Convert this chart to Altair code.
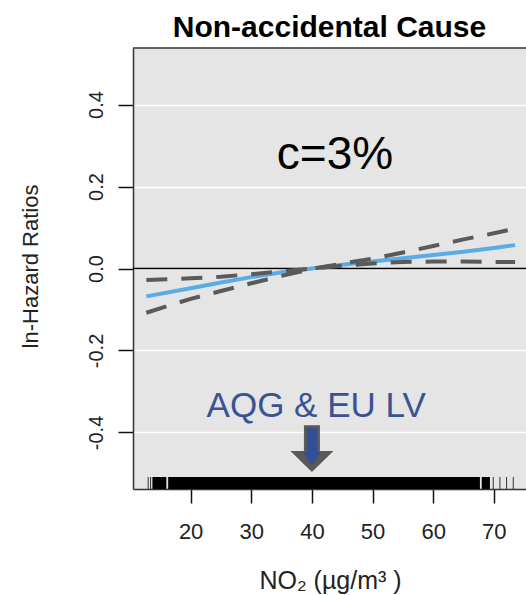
import altair as alt
import pandas as pd

FONT = "Liberation Sans, Arial, Helvetica, sans-serif"

# ---- data ----
x_vals = [12.7, 20, 25, 30, 35, 40, 45, 50, 55, 60, 65, 70, 73.5]
fit_vals = [-0.068, -0.048, -0.034, -0.021, -0.009, 0.000, 0.009, 0.017, 0.025, 0.033, 0.041, 0.050, 0.057]
ci_steep = [-0.108, -0.074, -0.055, -0.036, -0.018, -0.001, 0.012, 0.024, 0.039, 0.055, 0.071, 0.086, 0.097]
ci_flat = [-0.028, -0.024, -0.020, -0.014, -0.007, 0.000, 0.007, 0.012, 0.016, 0.017, 0.017, 0.016, 0.016]

rug_dense_start = [13.7, 16.3, 68.0]
rug_dense_end = [16.0, 67.7, 69.35]
rug_ticks = [13.0, 13.4, 69.9, 71.0, 72.1, 73.2]

x_ticks = [20, 30, 40, 50, 60, 70]
y_ticks = [-0.4, -0.2, 0.0, 0.2, 0.4]

limit_value = [40]          # AQG & EU limit value, µg/m3
label_text = ["AQG & EU LV"]
effect_text = ["c=3%"]

# ---- tables ----
fit_df = pd.DataFrame({"x": x_vals, "y": fit_vals})
ci_df = pd.concat([
    pd.DataFrame({"x": x_vals, "y": ci_steep, "bound": "steep"}),
    pd.DataFrame({"x": x_vals, "y": ci_flat, "bound": "flat"}),
])
rug_rect_df = pd.DataFrame({"x": rug_dense_start, "x2": rug_dense_end})
rug_tick_df = pd.DataFrame({"x": rug_ticks})
zero_df = pd.DataFrame({"y": [0.0]})
arrow_df = pd.DataFrame({"x": limit_value, "y": [-0.440]})
aqg_df = pd.DataFrame({"x": [40.7], "y": [-0.363], "t": label_text})
eff_df = pd.DataFrame({"x": [43.8], "y": [0.243], "t": effect_text})

W, H = 393, 441
xs = alt.Scale(domain=[10.5, 75.3], nice=False, zero=False)
ys = alt.Scale(domain=[-0.538, 0.538], nice=False, zero=False)

x_axis = alt.Axis(
    values=x_ticks, title="NO\u2082 (\u00b5g/m\u00b3 )", grid=False,
    domainColor="#333333", domainWidth=1.5,
    tickColor="#111111", tickWidth=1.5, tickSize=14,
    labelFont=FONT, labelFontSize=22, labelColor="#222222", labelPadding=18,
    titleFont=FONT, titleFontSize=25, titleFontWeight="normal", titleColor="#222222",
    titleX=197, titleY=99, titleAlign="center", titleBaseline="alphabetic",
)
y_axis = alt.Axis(
    values=y_ticks, title="ln-Hazard Ratios", grid=True,
    gridColor="white", gridWidth=1.5,
    domainColor="#333333", domainWidth=1.5,
    tickColor="#111111", tickWidth=1.5, tickSize=15,
    labelFont=FONT, labelFontSize=20, labelColor="#222222", labelPadding=12,
    labelAngle=270, labelAlign="center", labelBaseline="bottom",
    labelExpr="datum.value < 0 ? '-' + format(abs(datum.value), '.1f') : format(datum.value, '.1f')",
    titleFont=FONT, titleFontSize=22, titleFontWeight="normal", titleColor="#222222",
    titleAngle=270, titleX=-103, titleY=218, titleAlign="center", titleBaseline="middle",
)

def X(field="x"):
    return alt.X(f"{field}:Q", scale=xs, axis=x_axis)

def Y(field="y"):
    return alt.Y(f"{field}:Q", scale=ys, axis=y_axis)

zero_line = alt.Chart(zero_df).mark_rule(color="black", strokeWidth=1.5).encode(y=Y())
top_frame = alt.Chart(zero_df).mark_rule(color="#333333", strokeWidth=1.5).encode(y=alt.value(0))

fit_line = alt.Chart(fit_df).mark_line(color="#5aabe6", strokeWidth=4).encode(x=X(), y=Y())
ci_lines = alt.Chart(ci_df).mark_line(
    color="#5a5a5a", strokeWidth=4, strokeDash=[21, 14]
).encode(x=X(), y=Y(), detail="bound:N")

rug_rects = alt.Chart(rug_rect_df).mark_rect(color="black").encode(
    x=X(), x2="x2:Q", y=alt.value(H - 12), y2=alt.value(H)
)
rug_lines = alt.Chart(rug_tick_df).mark_rule(color="#333333", strokeWidth=1).encode(
    x=X(), y=alt.value(H - 12), y2=alt.value(H)
)

arrow_outer = "M -0.333 -0.979 L 0.333 -0.979 L 0.333 0.092 L 0.896 0.092 L 0 0.967 L -0.896 0.092 L -0.333 0.092 Z"
arrow_inner = "M -0.208 -0.854 L 0.208 -0.854 L 0.208 0.13 L 0.35 0.13 L 0 0.69 L -0.35 0.13 L -0.208 0.13 Z"
arrow_a = alt.Chart(arrow_df).mark_point(
    shape=arrow_outer, size=2304, filled=True, fill="#595959", opacity=1, strokeWidth=0
).encode(x=X(), y=Y())
arrow_b = alt.Chart(arrow_df).mark_point(
    shape=arrow_inner, size=2304, filled=True, fill="#2f4f98", opacity=1, strokeWidth=0
).encode(x=X(), y=Y())

aqg_text = alt.Chart(aqg_df).mark_text(
    font=FONT, fontSize=35, color="#3a5293", align="center", baseline="alphabetic"
).encode(x=X(), y=Y(), text="t:N")
eff_text = alt.Chart(eff_df).mark_text(
    font=FONT, fontSize=46, color="black", align="center", baseline="alphabetic"
).encode(x=X(), y=Y(), text="t:N")

chart = alt.layer(
    zero_line, top_frame, fit_line, ci_lines, rug_rects, rug_lines,
    arrow_a, arrow_b, aqg_text, eff_text,
).properties(
    width=W, height=H, background="white",
    title=alt.TitleParams("Non-accidental Cause", font=FONT, fontSize=30,
                          fontWeight="bold", color="black", anchor="middle", offset=4),
    autosize=alt.AutoSizeParams(type="none"),
    padding={"left": 133, "top": 48, "right": 0, "bottom": 106},
).configure_view(fill="#e5e5e5", strokeWidth=0)

chart.save("out.html", embed_options={"renderer": "svg", "actions": False})
